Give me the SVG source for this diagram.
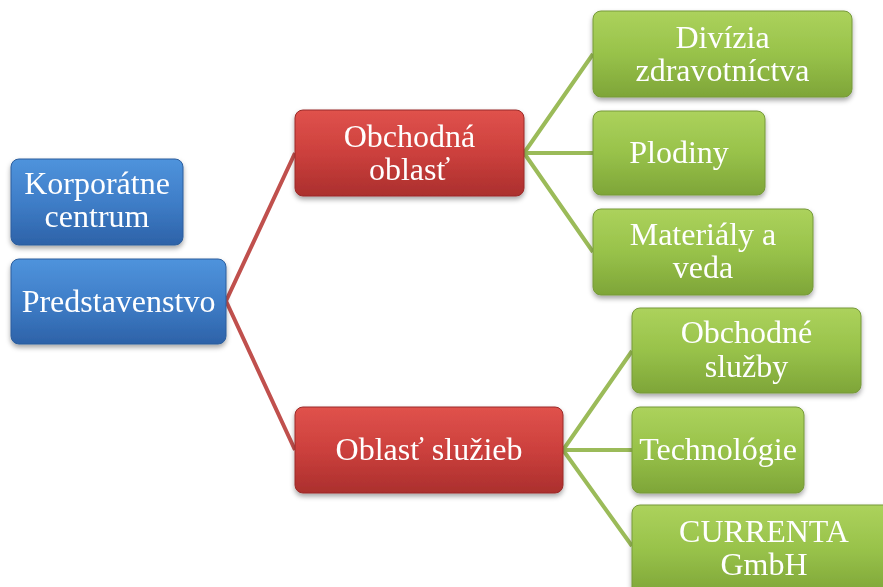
<svg xmlns="http://www.w3.org/2000/svg" width="883" height="587" viewBox="0 0 883 587">
<defs>
<linearGradient id="gBlue" x1="0" y1="0" x2="0" y2="1">
<stop offset="0" stop-color="#4f93dc"/>
<stop offset="0.5" stop-color="#3f7ec8"/>
<stop offset="1" stop-color="#2d62a8"/>
</linearGradient>
<linearGradient id="gRed" x1="0" y1="0" x2="0" y2="1">
<stop offset="0" stop-color="#e0524c"/>
<stop offset="0.5" stop-color="#cc403d"/>
<stop offset="1" stop-color="#ab2f2d"/>
</linearGradient>
<linearGradient id="gGreen" x1="0" y1="0" x2="0" y2="1">
<stop offset="0" stop-color="#acd25c"/>
<stop offset="0.5" stop-color="#98c24a"/>
<stop offset="1" stop-color="#7ea538"/>
</linearGradient>
<filter id="sh" x="-10%" y="-10%" width="120%" height="130%">
<feDropShadow dx="0" dy="3" stdDeviation="2.5" flood-color="#000" flood-opacity="0.35"/>
</filter>
<style>
.box{filter:url(#sh);}
.blue{fill:url(#gBlue);stroke:#2c5d9c;stroke-width:1;}
.red{fill:url(#gRed);stroke:#9a2a28;stroke-width:1;}
.green{fill:url(#gGreen);stroke:#76993a;stroke-width:1;}
.t{font-family:"Liberation Serif","Times New Roman",serif;font-size:32px;fill:#ffffff;text-anchor:middle;}
.cr{stroke:#c0504d;stroke-width:4;fill:none;}
.cg{stroke:#9bbb59;stroke-width:4;fill:none;}
</style>
</defs>
<rect width="883" height="587" fill="#ffffff"/>
<g id="connectors">
<path class="cr" d="M226,301 L295,153 M226,301 L295,450"/>
<path class="cg" d="M524,153 L593,54 M524,153 L593,153 M524,153 L593,252"/>
<path class="cg" d="M563,450 L632,351 M563,450 L632,450 M563,450 L632,546"/>
</g>
<g id="n-korporatne" class="box">
<rect class="blue" x="11" y="159" width="172" height="86" rx="8"/>
<text class="t" x="97" y="194">Korporátne</text>
<text class="t" x="97" y="227">centrum</text>
</g>
<g id="n-predstavenstvo" class="box">
<rect class="blue" x="11" y="259" width="215" height="85" rx="8"/>
<text class="t" x="118.5" y="312">Predstavenstvo</text>
</g>
<g id="n-obchodna" class="box">
<rect class="red" x="295" y="110" width="229" height="86" rx="8"/>
<text class="t" x="409.5" y="147">Obchodná</text>
<text class="t" x="409.5" y="180">oblasť</text>
</g>
<g id="n-sluzieb" class="box">
<rect class="red" x="295" y="407" width="268" height="86" rx="8"/>
<text class="t" x="429" y="460">Oblasť služieb</text>
</g>
<g id="n-divizia" class="box">
<rect class="green" x="593" y="11" width="259" height="86" rx="8"/>
<text class="t" x="722.5" y="48">Divízia</text>
<text class="t" x="722.5" y="81">zdravotníctva</text>
</g>
<g id="n-plodiny" class="box">
<rect class="green" x="593" y="111" width="172" height="84" rx="8"/>
<text class="t" x="679" y="163">Plodiny</text>
</g>
<g id="n-materialy" class="box">
<rect class="green" x="593" y="209" width="220" height="86" rx="8"/>
<text class="t" x="703" y="245">Materiály a</text>
<text class="t" x="703" y="278">veda</text>
</g>
<g id="n-obchodne" class="box">
<rect class="green" x="632" y="308" width="229" height="85" rx="8"/>
<text class="t" x="746.5" y="343">Obchodné</text>
<text class="t" x="746.5" y="377">služby</text>
</g>
<g id="n-technologie" class="box">
<rect class="green" x="632" y="407" width="172" height="86" rx="8"/>
<text class="t" x="718" y="460">Technológie</text>
</g>
<g id="n-currenta" class="box">
<rect class="green" x="632" y="505" width="264" height="90" rx="8"/>
<text class="t" x="764" y="542">CURRENTA</text>
<text class="t" x="764" y="575">GmbH</text>
</g>
</svg>
